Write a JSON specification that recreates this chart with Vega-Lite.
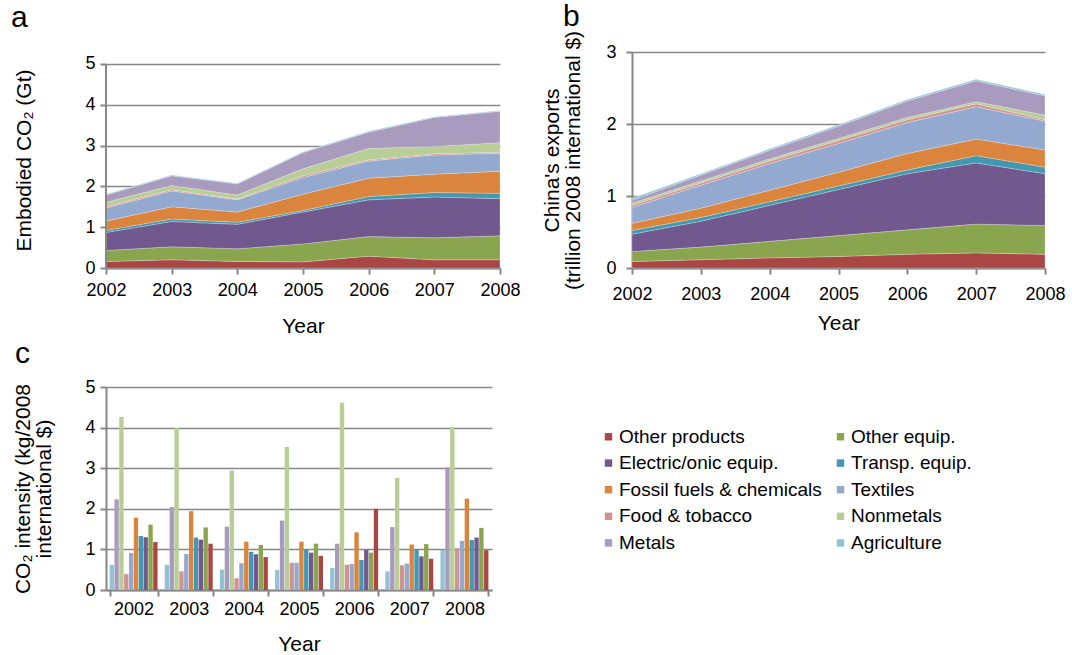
{
  "$schema": "https://vega.github.io/schema/vega-lite/v6.json",
  "background": "white",
  "padding": {"left": 10, "top": 2, "right": 6, "bottom": 0},
  "config": {
    "font": "Liberation Sans",
    "view": {"stroke": null},
    "axis": {
      "domainColor": "#878787", "domainWidth": 2,
      "tickColor": "#878787", "tickWidth": 2, "tickSize": 6,
      "gridColor": "#878787", "gridWidth": 1.6,
      "labelFont": "Liberation Sans", "labelFontSize": 18, "labelColor": "#000000",
      "titleFont": "Liberation Sans", "titleFontSize": 21, "titleFontWeight": "normal", "titleColor": "#000000",
      "titleLineHeight": 21,
      "labelOverlap": false
    },
    "title": {"font": "Liberation Sans", "fontSize": 30, "fontWeight": "normal", "anchor": "start", "frame": "bounds", "color": "#000000"}
  },
  "datasets": {
    "sectors": [
      {"sector": "Other products", "rank": 1},
      {"sector": "Other equip.", "rank": 2},
      {"sector": "Electric/onic equip.", "rank": 3},
      {"sector": "Transp. equip.", "rank": 4},
      {"sector": "Fossil fuels & chemicals", "rank": 5},
      {"sector": "Textiles", "rank": 6},
      {"sector": "Food & tobacco", "rank": 7},
      {"sector": "Nonmetals", "rank": 8},
      {"sector": "Metals", "rank": 9},
      {"sector": "Agriculture", "rank": 10}
    ],
    "sectoral": [
      {"sector": "Other products", "year": 2002, "embodied": 0.16, "exports": 0.09, "intensity": 1.18},
      {"sector": "Other products", "year": 2003, "embodied": 0.20, "exports": 0.115, "intensity": 1.14},
      {"sector": "Other products", "year": 2004, "embodied": 0.16, "exports": 0.14, "intensity": 0.81},
      {"sector": "Other products", "year": 2005, "embodied": 0.15, "exports": 0.16, "intensity": 0.84},
      {"sector": "Other products", "year": 2006, "embodied": 0.29, "exports": 0.19, "intensity": 2.00},
      {"sector": "Other products", "year": 2007, "embodied": 0.20, "exports": 0.21, "intensity": 0.77},
      {"sector": "Other products", "year": 2008, "embodied": 0.20, "exports": 0.19, "intensity": 0.98},
      {"sector": "Other equip.", "year": 2002, "embodied": 0.27, "exports": 0.14, "intensity": 1.61},
      {"sector": "Other equip.", "year": 2003, "embodied": 0.32, "exports": 0.175, "intensity": 1.54},
      {"sector": "Other equip.", "year": 2004, "embodied": 0.31, "exports": 0.23, "intensity": 1.11},
      {"sector": "Other equip.", "year": 2005, "embodied": 0.44, "exports": 0.29, "intensity": 1.14},
      {"sector": "Other equip.", "year": 2006, "embodied": 0.48, "exports": 0.34, "intensity": 0.92},
      {"sector": "Other equip.", "year": 2007, "embodied": 0.54, "exports": 0.40, "intensity": 1.13},
      {"sector": "Other equip.", "year": 2008, "embodied": 0.59, "exports": 0.40, "intensity": 1.53},
      {"sector": "Electric/onic equip.", "year": 2002, "embodied": 0.44, "exports": 0.24, "intensity": 1.30},
      {"sector": "Electric/onic equip.", "year": 2003, "embodied": 0.62, "exports": 0.36, "intensity": 1.24},
      {"sector": "Electric/onic equip.", "year": 2004, "embodied": 0.60, "exports": 0.50, "intensity": 0.88},
      {"sector": "Electric/onic equip.", "year": 2005, "embodied": 0.78, "exports": 0.64, "intensity": 0.92},
      {"sector": "Electric/onic equip.", "year": 2006, "embodied": 0.90, "exports": 0.78, "intensity": 0.99},
      {"sector": "Electric/onic equip.", "year": 2007, "embodied": 1.00, "exports": 0.85, "intensity": 0.83},
      {"sector": "Electric/onic equip.", "year": 2008, "embodied": 0.91, "exports": 0.72, "intensity": 1.29},
      {"sector": "Transp. equip.", "year": 2002, "embodied": 0.05, "exports": 0.05, "intensity": 1.33},
      {"sector": "Transp. equip.", "year": 2003, "embodied": 0.06, "exports": 0.05, "intensity": 1.29},
      {"sector": "Transp. equip.", "year": 2004, "embodied": 0.05, "exports": 0.05, "intensity": 0.94},
      {"sector": "Transp. equip.", "year": 2005, "embodied": 0.04, "exports": 0.05, "intensity": 1.01},
      {"sector": "Transp. equip.", "year": 2006, "embodied": 0.08, "exports": 0.05, "intensity": 0.74},
      {"sector": "Transp. equip.", "year": 2007, "embodied": 0.11, "exports": 0.10, "intensity": 1.00},
      {"sector": "Transp. equip.", "year": 2008, "embodied": 0.13, "exports": 0.09, "intensity": 1.23},
      {"sector": "Fossil fuels & chemicals", "year": 2002, "embodied": 0.23, "exports": 0.10, "intensity": 1.78},
      {"sector": "Fossil fuels & chemicals", "year": 2003, "embodied": 0.30, "exports": 0.13, "intensity": 1.94},
      {"sector": "Fossil fuels & chemicals", "year": 2004, "embodied": 0.25, "exports": 0.16, "intensity": 1.19},
      {"sector": "Fossil fuels & chemicals", "year": 2005, "embodied": 0.40, "exports": 0.19, "intensity": 1.19},
      {"sector": "Fossil fuels & chemicals", "year": 2006, "embodied": 0.45, "exports": 0.23, "intensity": 1.42},
      {"sector": "Fossil fuels & chemicals", "year": 2007, "embodied": 0.45, "exports": 0.23, "intensity": 1.12},
      {"sector": "Fossil fuels & chemicals", "year": 2008, "embodied": 0.54, "exports": 0.24, "intensity": 2.25},
      {"sector": "Textiles", "year": 2002, "embodied": 0.32, "exports": 0.22, "intensity": 0.91},
      {"sector": "Textiles", "year": 2003, "embodied": 0.39, "exports": 0.32, "intensity": 0.89},
      {"sector": "Textiles", "year": 2004, "embodied": 0.30, "exports": 0.37, "intensity": 0.66},
      {"sector": "Textiles", "year": 2005, "embodied": 0.41, "exports": 0.40, "intensity": 0.67},
      {"sector": "Textiles", "year": 2006, "embodied": 0.42, "exports": 0.43, "intensity": 0.64},
      {"sector": "Textiles", "year": 2007, "embodied": 0.47, "exports": 0.45, "intensity": 0.65},
      {"sector": "Textiles", "year": 2008, "embodied": 0.44, "exports": 0.40, "intensity": 1.21},
      {"sector": "Food & tobacco", "year": 2002, "embodied": 0.03, "exports": 0.03, "intensity": 0.39},
      {"sector": "Food & tobacco", "year": 2003, "embodied": 0.03, "exports": 0.03, "intensity": 0.46},
      {"sector": "Food & tobacco", "year": 2004, "embodied": 0.02, "exports": 0.035, "intensity": 0.29},
      {"sector": "Food & tobacco", "year": 2005, "embodied": 0.04, "exports": 0.04, "intensity": 0.67},
      {"sector": "Food & tobacco", "year": 2006, "embodied": 0.03, "exports": 0.04, "intensity": 0.62},
      {"sector": "Food & tobacco", "year": 2007, "embodied": 0.03, "exports": 0.04, "intensity": 0.61},
      {"sector": "Food & tobacco", "year": 2008, "embodied": 0.03, "exports": 0.02, "intensity": 1.03},
      {"sector": "Nonmetals", "year": 2002, "embodied": 0.11, "exports": 0.03, "intensity": 4.26},
      {"sector": "Nonmetals", "year": 2003, "embodied": 0.10, "exports": 0.03, "intensity": 3.99},
      {"sector": "Nonmetals", "year": 2004, "embodied": 0.10, "exports": 0.03, "intensity": 2.94},
      {"sector": "Nonmetals", "year": 2005, "embodied": 0.17, "exports": 0.03, "intensity": 3.52},
      {"sector": "Nonmetals", "year": 2006, "embodied": 0.28, "exports": 0.03, "intensity": 4.61},
      {"sector": "Nonmetals", "year": 2007, "embodied": 0.18, "exports": 0.03, "intensity": 2.76},
      {"sector": "Nonmetals", "year": 2008, "embodied": 0.23, "exports": 0.065, "intensity": 4.01},
      {"sector": "Metals", "year": 2002, "embodied": 0.18, "exports": 0.04, "intensity": 2.23},
      {"sector": "Metals", "year": 2003, "embodied": 0.24, "exports": 0.08, "intensity": 2.04},
      {"sector": "Metals", "year": 2004, "embodied": 0.27, "exports": 0.12, "intensity": 1.56},
      {"sector": "Metals", "year": 2005, "embodied": 0.40, "exports": 0.17, "intensity": 1.71},
      {"sector": "Metals", "year": 2006, "embodied": 0.40, "exports": 0.23, "intensity": 1.14},
      {"sector": "Metals", "year": 2007, "embodied": 0.71, "exports": 0.29, "intensity": 1.55},
      {"sector": "Metals", "year": 2008, "embodied": 0.77, "exports": 0.265, "intensity": 3.02},
      {"sector": "Agriculture", "year": 2002, "embodied": 0.02, "exports": 0.03, "intensity": 0.62},
      {"sector": "Agriculture", "year": 2003, "embodied": 0.02, "exports": 0.02, "intensity": 0.62},
      {"sector": "Agriculture", "year": 2004, "embodied": 0.02, "exports": 0.02, "intensity": 0.50},
      {"sector": "Agriculture", "year": 2005, "embodied": 0.02, "exports": 0.02, "intensity": 0.49},
      {"sector": "Agriculture", "year": 2006, "embodied": 0.02, "exports": 0.02, "intensity": 0.54},
      {"sector": "Agriculture", "year": 2007, "embodied": 0.02, "exports": 0.02, "intensity": 0.46},
      {"sector": "Agriculture", "year": 2008, "embodied": 0.02, "exports": 0.02, "intensity": 0.99}
    ]
  },
  "columns": 2,
  "bounds": "flush",
  "align": "each",
  "spacing": {"column": 132, "row": 119},
  "resolve": {"scale": {"color": "independent"}, "legend": {"color": "independent"}},
  "concat": [
    {
      "title": {"text": "a", "offset": 19, "dx": -3},
      "width": 394,
      "height": 216,
      "data": {"name": "sectoral"},
      "transform": [
        {"lookup": "sector", "from": {"data": {"name": "sectors"}, "key": "sector", "fields": ["rank"]}}
      ],
      "layer": [
        {
          "mark": {"type": "area", "line": false, "stroke": "#ffffff", "strokeWidth": 0.4, "strokeOpacity": 0.6},
          "encoding": {
            "x": {
              "field": "year", "type": "quantitative",
              "scale": {"domain": [2002, 2008], "nice": false, "zero": false},
              "axis": {"values": [2002, 2003, 2004, 2005, 2006, 2007, 2008], "format": "d", "grid": false, "labelFlush": false, "labelPadding": 7, "titlePadding": 16, "title": "Year"}
            },
            "y": {
              "field": "embodied", "type": "quantitative", "stack": "zero",
              "scale": {"domain": [0, 5.2941], "nice": false},
              "axis": {"values": [0, 1, 2, 3, 4, 5], "grid": true, "domain": false, "labelPadding": 5, "titlePadding": 50, "title": "Embodied CO₂ (Gt)"}
            },
            "color": {
              "field": "sector", "type": "nominal",
              "scale": {
                "domain": ["Other products", "Other equip.", "Electric/onic equip.", "Transp. equip.", "Fossil fuels & chemicals", "Textiles", "Food & tobacco", "Nonmetals", "Metals", "Agriculture"],
                "range": ["#AA4643", "#89A54E", "#71588F", "#4198AF", "#DB843D", "#93A9CF", "#D19392", "#B9CD96", "#A99BBD", "#92C3D5"]
              },
              "legend": null
            },
            "order": {"field": "rank", "type": "quantitative", "sort": "ascending"}
          }
        },
        {
          "mark": {"type": "rule", "color": "#878787", "strokeWidth": 2},
          "encoding": {
            "x": {"datum": 2002, "type": "quantitative"},
            "y": {"datum": 0, "type": "quantitative"},
            "y2": {"datum": 5}
          }
        }
      ]
    },
    {
      "title": {"text": "b", "offset": -2, "dx": 21},
      "width": 413,
      "height": 216,
      "data": {"name": "sectoral"},
      "transform": [
        {"lookup": "sector", "from": {"data": {"name": "sectors"}, "key": "sector", "fields": ["rank"]}}
      ],
      "mark": {"type": "area", "line": false, "stroke": "#ffffff", "strokeWidth": 0.4, "strokeOpacity": 0.6},
      "encoding": {
        "x": {
          "field": "year", "type": "quantitative",
          "scale": {"domain": [2002, 2008], "nice": false, "zero": false},
          "axis": {"values": [2002, 2003, 2004, 2005, 2006, 2007, 2008], "format": "d", "grid": false, "labelFlush": false, "labelPadding": 11, "titlePadding": 9, "title": "Year"}
        },
        "y": {
          "field": "exports", "type": "quantitative", "stack": "zero",
          "scale": {"domain": [0, 3], "nice": false},
          "axis": {"values": [0, 1, 2, 3], "grid": true, "labelPadding": 10, "titlePadding": 22, "title": ["China's exports", "(trillion 2008 international $)"]}
        },
        "color": {
          "field": "sector", "type": "nominal",
          "scale": {
            "domain": ["Other products", "Other equip.", "Electric/onic equip.", "Transp. equip.", "Fossil fuels & chemicals", "Textiles", "Food & tobacco", "Nonmetals", "Metals", "Agriculture"],
            "range": ["#AA4643", "#89A54E", "#71588F", "#4198AF", "#DB843D", "#93A9CF", "#D19392", "#B9CD96", "#A99BBD", "#92C3D5"]
          },
          "legend": null
        },
        "order": {"field": "rank", "type": "quantitative", "sort": "ascending"}
      }
    },
    {
      "title": {"text": "c", "offset": 9, "dx": 2},
      "width": 386,
      "height": 203,
      "data": {"name": "sectoral"},
      "mark": {"type": "bar"},
      "encoding": {
        "x": {
          "field": "year", "type": "ordinal",
          "scale": {"paddingInner": 0.13, "paddingOuter": 0.065},
          "axis": {"labelAngle": 0, "tickBand": "extent", "labelPadding": 4, "titlePadding": 15, "title": "Year"}
        },
        "xOffset": {
          "field": "sector", "type": "nominal",
          "sort": ["Agriculture", "Metals", "Nonmetals", "Food & tobacco", "Textiles", "Fossil fuels & chemicals", "Transp. equip.", "Electric/onic equip.", "Other equip.", "Other products"],
          "scale": {"paddingInner": 0.1}
        },
        "y": {
          "field": "intensity", "type": "quantitative",
          "scale": {"domain": [0, 5], "nice": false},
          "axis": {"values": [0, 1, 2, 3, 4, 5], "grid": true, "labelPadding": 5, "titlePadding": 30, "title": ["CO₂ intensity (kg/2008", "international $)"]}
        },
        "color": {
          "field": "sector", "type": "nominal",
          "scale": {
            "domain": ["Other products", "Electric/onic equip.", "Fossil fuels & chemicals", "Food & tobacco", "Metals", "Other equip.", "Transp. equip.", "Textiles", "Nonmetals", "Agriculture"],
            "range": ["#AA4643", "#71588F", "#DB843D", "#D19392", "#A99BBD", "#89A54E", "#4198AF", "#93A9CF", "#B9CD96", "#92C3D5"]
          },
          "legend": {
            "orient": "none", "legendX": 493, "legendY": 40,
            "title": null, "columns": 2, "direction": "vertical",
            "symbolType": "square", "symbolSize": 55, "symbolStrokeWidth": 0,
            "labelFont": "Liberation Sans", "labelFontSize": 19, "labelColor": "#000000",
            "labelOffset": 1, "labelLimit": 320, "columnPadding": 9, "rowPadding": 6.6
          }
        }
      }
    }
  ]
}
